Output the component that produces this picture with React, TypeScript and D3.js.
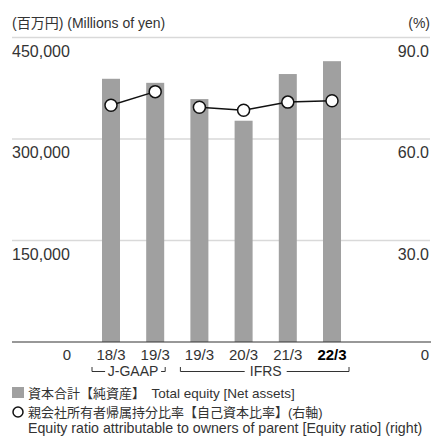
import React from "react";
import * as d3 from "d3";

const categories = ["18/3", "19/3", "19/3", "20/3", "21/3", "22/3"];
const standards = ["J-GAAP", "J-GAAP", "IFRS", "IFRS", "IFRS", "IFRS"];
const totalEquity = [389000, 383000, 359000, 327000, 396000, 415000];
const equityRatio = [70.0, 74.0, 69.4, 68.5, 70.9, 71.3];
const leftTicks = [0, 150000, 300000, 450000];
const rightTicks = [0, 30, 60, 90];

const W = 431;
const H = 436;
const FONT = "'Liberation Sans', Arial, 'Noto Sans CJK JP', sans-serif";
const TXT = "#333";

export default function App() {
  const x = d3.scalePoint<number>().domain(d3.range(categories.length)).range([111, 332]);
  const y = d3.scaleLinear().domain([0, 450000]).range([342, 37.5]);
  const y2 = d3.scaleLinear().domain([0, 90]).range([342, 37.5]);
  const barW = 18;
  const groups = Array.from(new Set(standards));
  const line = d3
    .line<number>()
    .x((i) => x(i)!)
    .y((i) => y2(equityRatio[i]));
  const fmt = d3.format(",");

  const brackets = groups.map((g) => {
    const idx = d3.range(categories.length).filter((i) => standards[i] === g);
    const first = x(idx[0])!;
    const last = x(idx[idx.length - 1])!;
    return {
      g,
      x0: first - 19,
      x1: last + (g === "IFRS" ? 17 : 10),
      mid: (first + last) / 2,
      half: g === "IFRS" ? 21 : 28,
    };
  });

  return (
    <svg width={W} height={H} style={{ position: "absolute", left: 0, top: 0 }} fontFamily={FONT}>
      <rect width={W} height={H} fill="#fff" />
      <text x={12} y={28} fontSize={14} fill={TXT}>(百万円) (Millions of yen)</text>
      <text x={430} y={28} fontSize={14} fill={TXT} textAnchor="end">(%)</text>

      {leftTicks.filter((t) => t > 0).map((t) => (
        <line key={t} x1={12} x2={430} y1={y(t)} y2={y(t)} stroke="#d9d9d9" strokeWidth={1.5} />
      ))}
      {leftTicks.filter((t) => t > 0).map((t) => (
        <text key={"l" + t} x={12} y={y(t) + 19} fontSize={16} fill={TXT}>{fmt(t)}</text>
      ))}
      {rightTicks.filter((t) => t > 0).map((t) => (
        <text key={"r" + t} x={429} y={y2(t) + 19} fontSize={16} fill={TXT} textAnchor="end">{t.toFixed(1)}</text>
      ))}

      {totalEquity.map((v, i) => (
        <rect key={i} x={x(i)! - barW / 2} y={y(v)} width={barW} height={y(0) - y(v)} fill="#a0a0a0" />
      ))}

      <line x1={12} x2={431} y1={y(0)} y2={y(0)} stroke="#333" strokeWidth={1.2} />

      {groups.map((g) => (
        <path
          key={g}
          d={line(d3.range(categories.length).filter((i) => standards[i] === g)) || ""}
          fill="none"
          stroke="#111"
          strokeWidth={1.5}
        />
      ))}
      {equityRatio.map((v, i) => (
        <circle key={i} cx={x(i)!} cy={y2(v)} r={6} fill="#fff" stroke="#111" strokeWidth={1.5} />
      ))}

      <text x={67} y={360} fontSize={15} fill={TXT} textAnchor="middle">0</text>
      <text x={425} y={360} fontSize={15} fill={TXT} textAnchor="middle">0</text>
      {categories.map((c, i) => (
        <text
          key={i}
          x={x(i)!}
          y={360}
          fontSize={15}
          fill={i === categories.length - 1 ? "#000" : TXT}
          fontWeight={i === categories.length - 1 ? "bold" : "normal"}
          textAnchor="middle"
        >
          {c}
        </text>
      ))}

      {brackets.map((b) => (
        <g key={b.g}>
          <path
            d={`M${b.x0},367V371.5H${b.mid - b.half}M${b.mid + b.half},371.5H${b.x1}V367`}
            fill="none"
            stroke="#333"
            strokeWidth={1}
          />
          <text x={b.mid} y={376} fontSize={14} fill={TXT} textAnchor="middle">{b.g}</text>
        </g>
      ))}

      <rect x={12} y={387} width={12} height={11} fill="#a0a0a0" />
      <text x={28} y={397.5} fill={TXT}>
        <tspan fontSize={13}>資本合計【純資産】　</tspan>
        <tspan fontSize={13.5}>Total equity [Net assets]</tspan>
      </text>
      <circle cx={18} cy={412} r={5} fill="#fff" stroke="#111" strokeWidth={1.5} />
      <text x={28} y={417} fontSize={13} fill={TXT}>親会社所有者帰属持分比率【自己資本比率】(右軸)</text>
      <text x={28} y={433} fontSize={14.2} fill={TXT}>Equity ratio attributable to owners of parent [Equity ratio] (right)</text>
    </svg>
  );
}
